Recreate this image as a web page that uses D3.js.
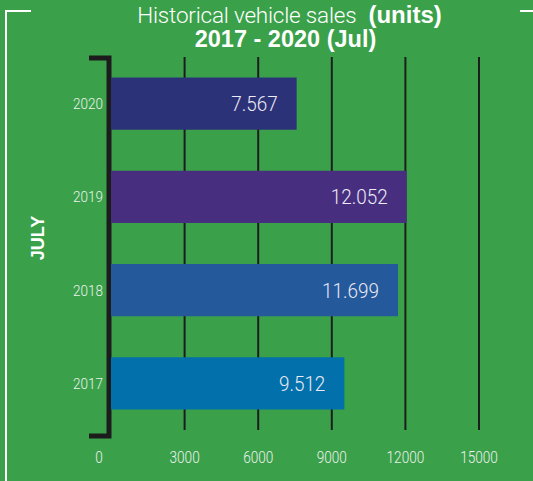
<!DOCTYPE html>
<html>
<head>
<meta charset="utf-8">
<script src="https://cdn.jsdelivr.net/npm/d3@7"></script>
<style>
  html, body { margin: 0; padding: 0; background: #3aa14a; }
  svg { display: block; }
</style>
</head>
<body>
<svg id="chart"></svg>
<script>
// data
const years  = ["2020", "2019", "2018", "2017"];
const sales  = [7567, 12052, 11699, 9512];
const labels = ["7.567", "12.052", "11.699", "9.512"];
const colors = ["#2c3278", "#472e7f", "#24599b", "#0270aa"];
const ticks  = [0, 3000, 6000, 9000, 12000, 15000];

const width = 533, height = 481;
const lightFont = "Roboto, 'Liberation Sans', Arial, sans-serif";
const boldFont  = "'Liberation Sans', Arial, sans-serif";

let svg = d3.select("#chart").attr("width", width).attr("height", height);

svg.append("rect").attr("width", width).attr("height", height).attr("fill", "#3aa14a");

let x = d3.scaleLinear().domain([0, 15000]).range([111, 479]),
    y = d3.scaleBand().domain(years).range([57, 430]).paddingInner(0.44).paddingOuter(0.22);

// white frame
svg.append("path")
  .attr("d", "M6,481 V11 H31 M520,11 H533")
  .attr("fill", "none")
  .attr("stroke", "#fff")
  .attr("stroke-width", 2);

// gridlines
svg.append("g").selectAll("line")
  .data(ticks.filter(d => d > 0))
  .join("line")
  .attr("x1", d => x(d)).attr("x2", d => x(d))
  .attr("y1", 57).attr("y2", 430)
  .attr("stroke", "#1d1d1d")
  .attr("stroke-width", 2);

// bracket axis
svg.append("path")
  .attr("d", "M89,58 H109 V436 H89")
  .attr("fill", "none")
  .attr("stroke", "#1c1c1c")
  .attr("stroke-width", 5);

// bars
svg.append("g").selectAll("rect")
  .data(years)
  .join("rect")
  .attr("x", x(0))
  .attr("y", d => y(d))
  .attr("width", (d, i) => x(sales[i]) - x(0))
  .attr("height", y.bandwidth())
  .attr("fill", (d, i) => colors[i]);

// value labels (condensed look via horizontal scale)
svg.append("g").selectAll("text")
  .data(years)
  .join("text")
  .attr("transform", (d, i) => "translate(" + (x(sales[i]) - 19) + "," + (y(d) + y.bandwidth() / 2 + 7.5) + ") scale(0.9,1)")
  .attr("text-anchor", "end")
  .attr("font-family", lightFont)
  .attr("font-weight", 300)
  .attr("font-size", 21)
  .attr("fill", "#ecebf6")
  .text((d, i) => labels[i]);

// year labels
svg.append("g").selectAll("text")
  .data(years)
  .join("text")
  .attr("transform", d => "translate(103," + (y(d) + y.bandwidth() / 2 + 5.5) + ") scale(0.9,1)")
  .attr("text-anchor", "end")
  .attr("font-family", lightFont)
  .attr("font-weight", 300)
  .attr("font-size", 15)
  .attr("fill", "#eef2ee")
  .text(d => d);

// x tick labels
svg.append("g").selectAll("text")
  .data(ticks)
  .join("text")
  .attr("transform", d => "translate(" + (d === 0 ? x(d) - 12 : x(d)) + ",462.5) scale(0.85,1)")
  .attr("text-anchor", "middle")
  .attr("font-family", lightFont)
  .attr("font-weight", 300)
  .attr("font-size", 16)
  .attr("fill", "#eef2ee")
  .text(d => d);

// JULY
svg.append("text")
  .attr("transform", "translate(43.5,238) rotate(-90)")
  .attr("text-anchor", "middle")
  .attr("font-family", boldFont)
  .attr("font-weight", "bold")
  .attr("font-size", 18)
  .attr("fill", "#fff")
  .text("JULY");

// title
let t1 = svg.append("text")
  .attr("x", 289.5).attr("y", 23.3)
  .attr("text-anchor", "middle")
  .attr("fill", "#fff");
t1.append("tspan")
  .attr("font-family", lightFont)
  .attr("font-weight", 300)
  .attr("font-size", 22.5)
  .attr("letter-spacing", -0.2)
  .text("Historical vehicle sales");
t1.append("tspan")
  .attr("font-family", boldFont)
  .attr("font-weight", "bold")
  .attr("font-size", 24)
  .attr("dx", 12)
  .text("(units)");

svg.append("text")
  .attr("x", 285.5).attr("y", 46.7)
  .attr("text-anchor", "middle")
  .attr("font-family", boldFont)
  .attr("font-weight", "bold")
  .attr("font-size", 23.5)
  .attr("fill", "#fff")
  .text("2017 - 2020 (Jul)");
</script>
</body>
</html>
